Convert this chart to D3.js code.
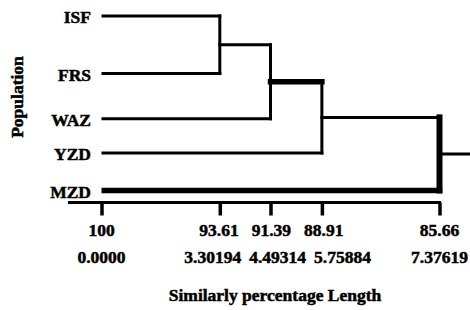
<!DOCTYPE html>
<html>
<head>
<meta charset="utf-8">
<script src="https://cdn.jsdelivr.net/npm/d3@7"></script>
<style>
  html, body { margin: 0; padding: 0; background: #fff; }
  svg { display: block; }
</style>
</head>
<body>
<svg id="chart" width="470" height="310"></svg>
<script>
// ---- data ----
const leaves = ["ISF", "FRS", "WAZ", "YZD", "MZD"];
const similarity = [100, 93.61, 91.39, 88.91, 85.66];
const distances = [0, 3.30194, 4.49314, 5.75884, 7.37619];
const distanceLabels = ["0.0000", "3.30194", "4.49314", "5.75884", "7.37619"];
// merges: [left child, right child, distance]; clusters named C1..C4
const merges = [
  ["ISF", "FRS", 3.30194],
  ["C1", "WAZ", 4.49314],
  ["C2", "YZD", 5.75884],
  ["C3", "MZD", 7.37619]
];
const xTitle = "Similarly percentage Length";
const yTitle = "Population";

// ---- layout ----
const FONT = "'Liberation Serif', 'Tinos', 'Times New Roman', 'DejaVu Serif', serif";
const svg = d3.select("#chart");
const W = 470, H = 310;
const x0 = 101.5, x1 = 439.5;
const xFrac = [0, 0.35, 0.5, 0.652, 1];          // drawn spacing of the axis
const x = d3.scaleLinear().domain(distances).range(xFrac.map(f => x0 + f * (x1 - x0)));
const yTop = 16, yBot = 190.5;
const yFrac = [0, 0.33, 0.589, 0.785, 1];          // drawn spacing of the leaves
const y = d3.scaleLinear().domain(d3.range(leaves.length)).range(yFrac.map(f => yTop + f * (yBot - yTop)));

const thin = 3, thick = 5.5;
const g = svg.append("g");

function styleText(sel) {
  return sel.style("font-family", FONT).style("font-weight", "bold")
    .style("font-size", "17.5px").attr("fill", "#000")
    .attr("stroke", "#000").attr("stroke-width", 0.5);
}

// positions of nodes
const nodeY = {}, nodeX = {}, parentOf = {};
leaves.forEach((l, i) => { nodeY[l] = y(i); nodeX[l] = x(0); });
merges.forEach((m, i) => {
  const name = "C" + (i + 1);
  nodeY[name] = (nodeY[m[0]] + nodeY[m[1]]) / 2;
  nodeX[name] = x(m[2]);
  parentOf[m[0]] = name; parentOf[m[1]] = name;
});

// thick segments (as drawn in reference)
const thickHoriz = new Set(["MZD", "C2"]);
const thickVert = new Set(["C4"]);

function seg(xa, ya, xb, yb, w) {
  g.append("line")
    .attr("x1", xa).attr("y1", ya).attr("x2", xb).attr("y2", yb)
    .attr("stroke", "#000").attr("stroke-width", w)
    .attr("stroke-linecap", "square");
}

// horizontal segments: each node to its parent's x
Object.keys(nodeY).forEach(n => {
  const w = thickHoriz.has(n) ? thick : thin;
  const xEnd = parentOf[n] ? nodeX[parentOf[n]] : W + 10;
  const xStart = leaves.includes(n) ? nodeX[n] + w / 2 : nodeX[n];
  seg(xStart, nodeY[n], xEnd, nodeY[n], w);
});
// vertical segments for each merge
merges.forEach((m, i) => {
  const name = "C" + (i + 1);
  const w = thickVert.has(name) ? thick + 0.5 : thin;
  seg(nodeX[name], nodeY[m[0]], nodeX[name], nodeY[m[1]], w);
});

// leaf labels
styleText(g.selectAll("text.leaf").data(leaves).join("text")
  .attr("class", "leaf")
  .attr("x", 91).attr("y", (d, i) => y(i) + 1)
  .attr("text-anchor", "end").attr("dominant-baseline", "central")
  .text(d => d));

// axis
const axisY = 202.5;
const axis = d3.axisBottom(x).tickValues(distances).tickSize(13).tickSizeOuter(0).tickFormat("");
const ag = svg.append("g").attr("transform", `translate(0,${axisY})`).call(axis);
ag.select(".domain").attr("d", `M68,0H${x1 + 1.5}`).attr("stroke", "#000").attr("stroke-width", 3);
ag.selectAll(".tick line").attr("stroke", "#000").attr("stroke-width", 3.5);

// tick label rows with simple collision avoidance
function labelRow(labels, yPos, gap) {
  const t = styleText(svg.append("g").selectAll("text").data(labels).join("text")
    .attr("text-anchor", "middle").attr("dominant-baseline", "central")
    .attr("y", yPos)
    .attr("x", (d, i) => x(distances[i]))
    .text(d => d));
  const nodes = t.nodes();
  const widths = nodes.map(n => n.getComputedTextLength());
  const c = distances.map(d => x(d));
  const moved = c.map(() => false);
  for (let i = 1; i < c.length; i++) {
    const sep = widths[i - 1] / 2 + widths[i] / 2 + gap;
    const d = sep - (c[i] - c[i - 1]);
    if (d > 0) {
      if (moved[i - 1]) { c[i] += d; }
      else { c[i - 1] -= d / 2; c[i] += d / 2; }
      moved[i] = true;
    }
  }
  t.attr("x", (d, i) => c[i]);
}
labelRow(similarity.map(String), 230, 13);
labelRow(distanceLabels, 256.5, 8);

// axis titles
styleText(svg.append("text")
  .attr("x", 275).attr("y", 295)
  .attr("text-anchor", "middle").attr("dominant-baseline", "central")
  .text(xTitle));
styleText(svg.append("text")
  .attr("transform", "translate(17,97) rotate(-90)")
  .attr("text-anchor", "middle").attr("dominant-baseline", "central")
  .text(yTitle));
</script>
</body>
</html>
